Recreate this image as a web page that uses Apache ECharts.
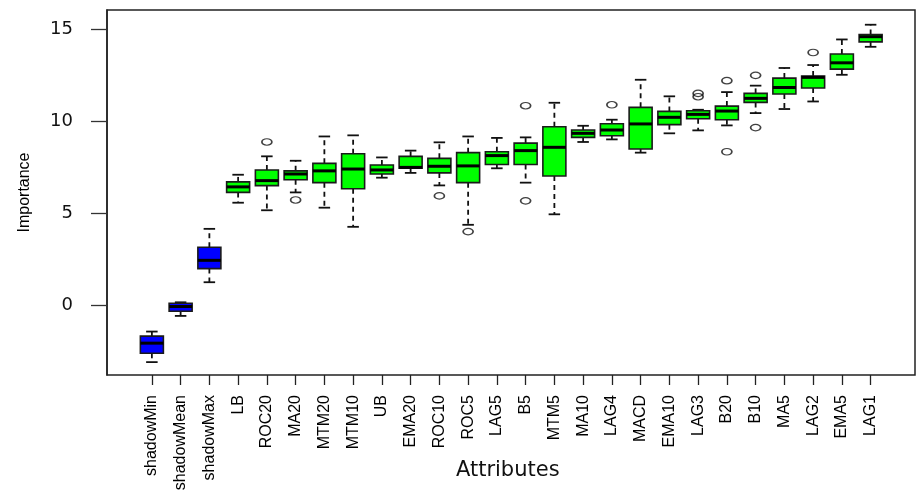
<!DOCTYPE html>
<html>
<head>
<meta charset="utf-8">
<script src="https://cdn.jsdelivr.net/npm/echarts@6/dist/echarts.min.js"></script>
<style>
html,body{margin:0;padding:0;background:#fff;}
#chart{width:917px;height:492px;}
</style>
</head>
<body>
<div id="chart"></div>
<script>
// ---- data ----
const categories = ['shadowMin','shadowMean','shadowMax','LB','ROC20','MA20','MTM20','MTM10','UB','EMA20','ROC10','ROC5','LAG5','B5','MTM5','MA10','LAG4','MACD','EMA10','LAG3','B20','B10','MA5','LAG2','EMA5','LAG1'];
const lowerWhisker = [-3.10,-0.59,1.24,5.56,5.15,6.12,5.29,4.25,6.92,7.18,6.50,4.36,7.43,6.65,4.93,8.86,9.00,8.28,9.33,9.49,9.76,10.43,10.65,11.06,12.51,14.03];
const lowerQuartile = [-2.62,-0.34,1.98,6.12,6.49,6.81,6.65,6.32,7.12,7.43,7.18,6.65,7.64,7.64,7.01,9.11,9.20,8.48,9.80,10.12,10.07,11.01,11.47,11.79,12.82,14.30];
const medians = [-2.07,-0.08,2.43,6.42,6.76,7.12,7.29,7.39,7.34,7.48,7.54,7.56,8.12,8.39,8.57,9.33,9.51,9.84,10.20,10.36,10.54,11.23,11.82,12.37,13.16,14.58];
const upperQuartile = [-1.69,0.10,3.14,6.69,7.34,7.29,7.70,8.22,7.61,8.08,7.97,8.28,8.33,8.80,9.69,9.51,9.85,10.74,10.52,10.56,10.81,11.50,12.33,12.44,13.64,14.70];
const upperWhisker = [-1.44,0.15,4.14,7.08,8.08,7.84,9.16,9.22,8.02,8.39,8.84,9.16,9.08,9.11,10.99,9.74,10.07,12.24,11.34,10.61,11.57,11.92,12.88,13.04,14.43,15.23];
const outlierNames = ['ROC20','MA20','ROC10','ROC5','B5','B5','LAG4','LAG3','LAG3','B20','B20','B10','B10','LAG2'];
const outlierValues = [8.86,5.71,5.93,3.99,10.83,5.66,10.88,11.50,11.32,12.19,8.33,12.48,9.64,13.72];
const yTicks = [0,5,10,15];

// ---- build ----
const boxData = categories.map((c, i) => [i, lowerWhisker[i], lowerQuartile[i], medians[i], upperQuartile[i], upperWhisker[i]]);
const outlierData = outlierNames.map((n, k) => [n, outlierValues[k]]);

const Y_MIN = -3.8, Y_MAX = 16.03;
const ink = '#111';

function renderBox(params, api) {
  const i = api.value(0);
  const name = categories[i];
  const fill = name.indexOf('shadow') === 0 ? '#0000FF' : '#00FF00';
  const pLow = api.coord([i, api.value(1)]);
  const pQ1 = api.coord([i, api.value(2)]);
  const pMed = api.coord([i, api.value(3)]);
  const pQ3 = api.coord([i, api.value(4)]);
  const pHigh = api.coord([i, api.value(5)]);
  const band = api.size([1, 0])[0];
  const bw = band * 0.8;
  const cw = bw * 0.5;
  const cx = pMed[0];
  const dash = {stroke: ink, lineWidth: 1.8, lineDash: [5, 4]};
  const solid = {stroke: ink, lineWidth: 1.8};
  return {
    type: 'group',
    children: [
      {type: 'line', shape: {x1: cx, y1: pQ3[1], x2: cx, y2: pHigh[1]}, style: dash},
      {type: 'line', shape: {x1: cx, y1: pQ1[1], x2: cx, y2: pLow[1]}, style: dash},
      {type: 'line', shape: {x1: cx - cw / 2, y1: pHigh[1], x2: cx + cw / 2, y2: pHigh[1]}, style: solid},
      {type: 'line', shape: {x1: cx - cw / 2, y1: pLow[1], x2: cx + cw / 2, y2: pLow[1]}, style: solid},
      {type: 'rect', shape: {x: cx - bw / 2, y: pQ3[1], width: bw, height: pQ1[1] - pQ3[1]},
        style: {fill: fill, stroke: '#1a1a1a', lineWidth: 1.6}},
      {type: 'line', shape: {x1: cx - bw / 2, y1: pMed[1], x2: cx + bw / 2, y2: pMed[1]},
        style: {stroke: '#000', lineWidth: 3}}
    ]
  };
}

const chart = echarts.init(document.getElementById('chart'), null, {renderer: 'canvas'});
chart.setOption({
  animation: false,
  backgroundColor: '#fff',
  grid: [
    {left: 107, right: 2, top: 10, bottom: 117, show: true, borderColor: '#222', borderWidth: 1.5,
      backgroundColor: 'transparent', containLabel: false, outerBoundsMode: 'none'},
    {left: 137.5, right: 32, top: 10, bottom: 117, containLabel: false, outerBoundsMode: 'none'}
  ],
  xAxis: [
    {gridIndex: 0, type: 'value', min: 0, max: 1, show: false},
    {
      gridIndex: 1, type: 'category', data: categories, boundaryGap: true, position: 'bottom',
      axisLine: {show: false, onZero: false},
      axisTick: {show: true, alignWithLabel: true, length: 10, lineStyle: {color: '#222', width: 1.3}},
      axisLabel: {interval: 0, rotate: 90, margin: 20, fontFamily: 'Liberation Sans', fontSize: 16, color: '#000'},
      splitLine: {show: false},
      name: 'Attributes', nameLocation: 'middle', nameGap: 85, nameMoveOverlap: false,
      nameTextStyle: {fontFamily: 'DejaVu Sans', fontSize: 21, color: ink, padding: [0, 7, 0, 0]}
    }
  ],
  yAxis: [
    {
      gridIndex: 0, type: 'value', min: Y_MIN, max: Y_MAX,
      axisLine: {show: true, lineStyle: {color: '#222', width: 1.5}},
      axisTick: {show: true, length: 16, customValues: yTicks, lineStyle: {color: '#333', width: 1.3}},
      axisLabel: {customValues: yTicks, margin: 34, fontFamily: 'DejaVu Sans', fontSize: 18, color: ink},
      splitLine: {show: false},
      name: 'Importance', nameLocation: 'middle', nameGap: 74, nameRotate: 90, nameMoveOverlap: false,
      nameTextStyle: {fontFamily: 'Liberation Sans', fontSize: 16, color: '#000'}
    },
    {gridIndex: 1, type: 'value', min: Y_MIN, max: Y_MAX, show: false}
  ],
  series: [
    {
      type: 'custom', xAxisIndex: 1, yAxisIndex: 1,
      data: boxData, encode: {x: 0, y: [1, 2, 3, 4, 5]},
      renderItem: renderBox, silent: true
    },
    {
      type: 'scatter', xAxisIndex: 1, yAxisIndex: 1,
      data: outlierData, symbol: 'circle', symbolSize: [10, 6.5],
      itemStyle: {color: 'rgba(0,0,0,0)', borderColor: ink, borderWidth: 1.4},
      silent: true
    }
  ]
});
</script>
</body>
</html>
